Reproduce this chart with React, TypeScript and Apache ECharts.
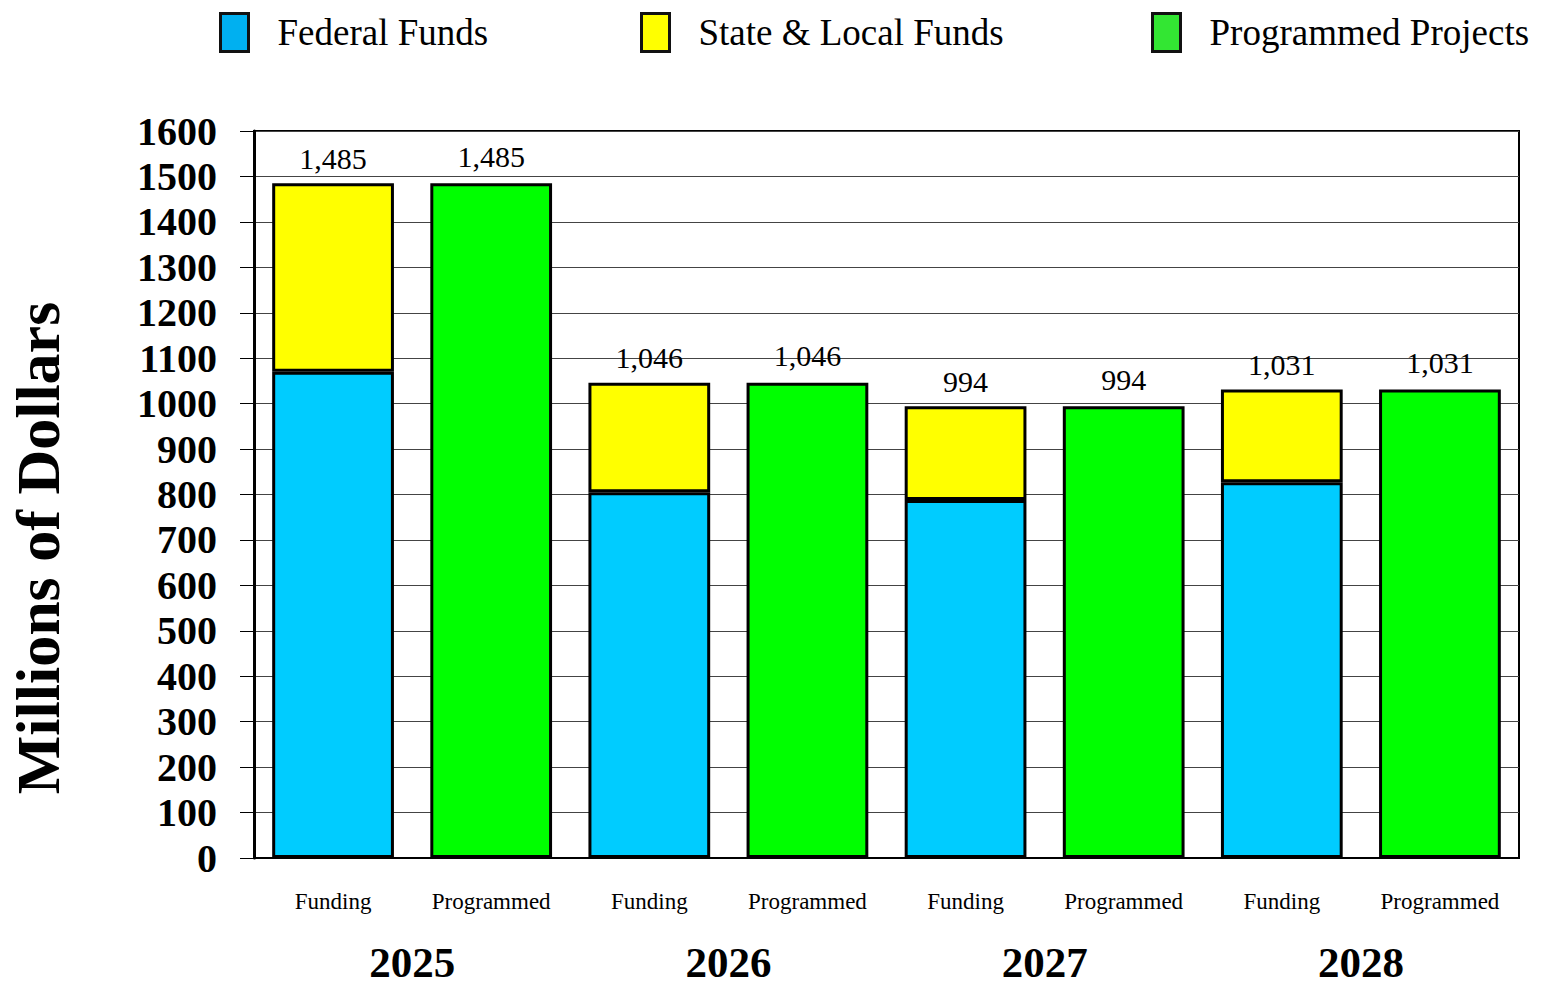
import React, { useEffect, useRef } from "react";
import * as echarts from "echarts";

const categories = ["Funding", "Programmed", "Funding", "Programmed", "Funding", "Programmed", "Funding", "Programmed"];
const years = ["2025", "2026", "2027", "2028"];
const federalFunds: (number | string)[] = [1070, "-", 805, "-", 788, "-", 827, "-"];
const stateLocalFunds: (number | string)[] = [415, "-", 241, "-", 206, "-", 204, "-"];
const programmedProjects: (number | string)[] = ["-", 1485, "-", 1046, "-", 994, "-", 1031];
const fundingTotals: (number | string)[] = [1485, "-", 1046, "-", 994, "-", 1031, "-"];

const FONT = "'Liberation Serif', 'Times New Roman', serif";
const fmt = (v: number) => v.toLocaleString("en-US");

export default function App() {
  const ref = useRef<HTMLDivElement>(null);
  useEffect(() => {
    if (!ref.current) return;
    const chart = echarts.init(ref.current, null, { renderer: "svg" });
    const legendText = { fontFamily: FONT, fontSize: 37, color: "#000", padding: [0, 0, 0, 24] };
    const legendCommon = {
      top: 7,
      itemWidth: 28,
      itemHeight: 38,
      icon: "rect",
      textStyle: legendText,
      selectedMode: false,
    };
    chart.setOption({
      animation: false,
      backgroundColor: "#fff",
      legend: [
        { ...legendCommon, left: 214, data: [{ name: "Federal Funds", itemStyle: { color: "#00B0F0", borderColor: "#111", borderWidth: 3 } }] },
        { ...legendCommon, left: 635, data: [{ name: "State & Local Funds", itemStyle: { color: "#FFFF00", borderColor: "#111", borderWidth: 3 } }] },
        { ...legendCommon, left: 1146, data: [{ name: "Programmed Projects", itemStyle: { color: "#33E633", borderColor: "#111", borderWidth: 3 } }] },
      ],
      grid: {
        left: 254,
        top: 131,
        right: 24,
        bottom: 128,
        show: true,
        borderColor: "#000",
        borderWidth: 2,
        backgroundColor: "#fff",
      },
      graphic: [
        {
          type: "text",
          x: 38,
          y: 548,
          rotation: Math.PI / 2,
          style: {
            text: "Millions of Dollars",
            fontFamily: FONT,
            fontSize: 62,
            fontWeight: "bold",
            fill: "#000",
            align: "center",
            verticalAlign: "middle",
          },
        },
      ],
      xAxis: [
        {
          type: "category",
          data: categories,
          axisLine: { lineStyle: { color: "#000", width: 2 } },
          axisTick: { show: false },
          axisLabel: { fontFamily: FONT, fontSize: 23, color: "#000", margin: 32, interval: 0 },
        },
        {
          type: "category",
          data: years,
          position: "bottom",
          axisLine: { show: false },
          axisTick: { show: false },
          axisLabel: { fontFamily: FONT, fontSize: 43, fontWeight: "bold", color: "#000", margin: 84, lineHeight: 40, interval: 0 },
        },
      ],
      yAxis: {
        type: "value",
        min: 0,
        max: 1600,
        interval: 100,
        axisLine: { show: true, lineStyle: { color: "#000", width: 3 } },
        axisTick: { show: true, length: 14, lineStyle: { color: "#000", width: 1 } },
        axisLabel: { fontFamily: FONT, fontSize: 40, fontWeight: "bold", color: "#000", margin: 37, formatter: (v: number) => String(v) },
        splitLine: { lineStyle: { color: "#444", width: 1 } },
      },
      series: [
        {
          name: "Federal Funds",
          type: "bar",
          stack: "a",
          data: federalFunds,
          barWidth: "77%",
          itemStyle: { color: "#00CCFF", borderColor: "#000", borderWidth: 3 },
        },
        {
          name: "State & Local Funds",
          type: "bar",
          stack: "a",
          data: stateLocalFunds,
          itemStyle: { color: "#FFFF00", borderColor: "#000", borderWidth: 3 },
          label: {
            show: true,
            position: "top",
            distance: 10,
            fontFamily: FONT,
            fontSize: 30,
            color: "#000",
            formatter: (p: any) => fmt(fundingTotals[p.dataIndex] as number),
          },
        },
        {
          name: "Programmed Projects",
          type: "bar",
          stack: "a",
          data: programmedProjects,
          itemStyle: { color: "#00FF00", borderColor: "#000", borderWidth: 3 },
          label: {
            show: true,
            position: "top",
            distance: 12,
            fontFamily: FONT,
            fontSize: 30,
            color: "#000",
            formatter: (p: any) => fmt(p.value as number),
          },
        },
      ],
    });
    return () => chart.dispose();
  }, []);
  return <div ref={ref} style={{ width: 1543, height: 986, position: "absolute", left: 0, top: 0 }} />;
}
